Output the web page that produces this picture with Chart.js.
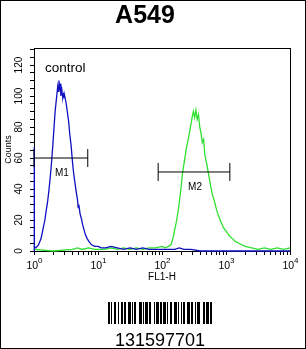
<!DOCTYPE html>
<html><head><meta charset="utf-8">
<script src="https://cdn.jsdelivr.net/npm/chart.js@4/dist/chart.umd.min.js"></script>
<style>html,body{margin:0;padding:0;background:#fff;}canvas{display:block}</style>
</head><body>
<canvas id="c" width="306" height="349"></canvas>
<script>
// ---- data ----
const chartTitle = 'A549';
const xAxisTitle = 'FL1-H';
const yAxisTitle = 'Counts';
const sampleLabel = 'control';
const barcodeText = '131597701';

// x positions are in decades (log10 of FL1-H)
const xTickDecades = [0, 1, 2, 3, 4];
const xTickBase = '10';
const xTickExponents = ['0', '1', '2', '3', '4'];

const controlDecades = [0, 0, 0.008, 0.03, 0.05, 0.07, 0.09, 0.11, 0.13, 0.15, 0.17, 0.19, 0.21, 0.23, 0.25, 0.27, 0.29, 0.31, 0.33, 0.35, 0.37, 0.38, 0.39, 0.40, 0.41, 0.42, 0.43, 0.44, 0.45, 0.46, 0.47, 0.48, 0.50, 0.52, 0.54, 0.56, 0.58, 0.60, 0.62, 0.64, 0.66, 0.68, 0.69, 0.70, 0.72, 0.74, 0.76, 0.78, 0.80, 0.83, 0.86, 0.90, 0.95, 1.00, 1.05, 1.12, 1.20, 1.30, 1.40, 1.50, 1.60, 1.70, 1.80, 2.00, 2.20, 2.27, 2.34, 2.45, 2.60, 4.00];
const controlCounts  = [0, 67, 3, 2, 3, 4, 6, 8, 12, 16, 20, 26, 31, 38, 46, 55, 66, 78, 90, 98, 106, 103, 110, 104, 108, 100, 106, 102, 99, 101, 99, 100, 96, 90, 84, 75, 68, 58, 50, 44, 38, 33, 28, 30, 24, 21, 17, 14, 11, 8, 6, 4, 3, 3, 2, 2, 3, 2, 1, 2, 1, 2, 1, 1, 1, 2, 1, 1, 0, 0];

const sampleDecades = [0, 0.3, 0.6, 0.68, 0.75, 0.85, 0.95, 1.1, 1.2, 1.3, 1.4, 1.5, 1.6, 1.7, 1.8, 1.9, 2.0, 2.05, 2.10, 2.14, 2.17, 2.20, 2.23, 2.26, 2.29, 2.32, 2.35, 2.38, 2.41, 2.44, 2.47, 2.49, 2.51, 2.53, 2.55, 2.57, 2.59, 2.61, 2.63, 2.65, 2.67, 2.70, 2.73, 2.76, 2.79, 2.82, 2.85, 2.88, 2.92, 2.96, 3.00, 3.05, 3.10, 3.15, 3.20, 3.30, 3.40, 3.50, 3.60, 3.70, 3.80, 3.90, 4.00];
const sampleCounts  = [1, 0, 1, 2, 1, 2, 1, 1, 2, 1, 2, 1, 2, 1, 2, 2, 3, 2, 3, 4, 8, 14, 20, 28, 38, 50, 58, 66, 72, 79, 86, 90, 86, 91, 85, 88, 80, 76, 70, 72, 62, 56, 49, 42, 36, 32, 27, 23, 19, 15, 13, 10, 8, 6, 5, 3, 2, 1, 2, 1, 2, 1, 2];

// gates: [startDecade, endDecade, level]
const gateNames = ['M1', 'M2'];
const gateStart = [0, 1.94];
const gateEnd   = [0.84, 3.06];
const gateLevel = [60, 51];

const yMax = 131;
// --------------------------------------

const FONT = '"Liberation Sans", Arial, sans-serif';
const barPattern = '11010011001001101100111010110001110101110110001011101101110100110011101001011001110110010111000110111011';

function toPoints(xs, ys) { return xs.map((x, i) => ({x: x, y: ys[i]})); }

const gateDatasets = gateNames.map((n, i) => ({
  label: n,
  data: [{x: gateStart[i], y: gateLevel[i]}, {x: gateEnd[i], y: gateLevel[i]}],
  borderColor: '#000', borderWidth: 1,
  pointStyle: 'line', pointRotation: 90, pointRadius: 9,
  pointBorderColor: '#000', pointBorderWidth: 1, pointHoverRadius: 9,
  clip: false, order: 0
}));

const decor = {
  id: 'decor',
  beforeDatasetsDraw(chart) {
    const ctx = chart.ctx, a = chart.chartArea;
    ctx.save();
    ctx.strokeStyle = '#000'; ctx.lineWidth = 1;
    ctx.strokeRect(a.left + 0.5, a.top + 0.5, a.right - a.left, a.bottom - a.top);
    ctx.restore();
  },
  afterDraw(chart) {
    const ctx = chart.ctx, a = chart.chartArea;
    const xs = chart.scales.x, ys = chart.scales.y;
    ctx.save();
    ctx.fillStyle = '#000';
    // x tick labels: 10 with raised exponent
    ctx.textAlign = 'left'; ctx.textBaseline = 'alphabetic';
    xTickDecades.forEach((d, i) => {
      const px = xs.getPixelForValue(d);
      ctx.font = '10.5px ' + FONT;
      const w1 = ctx.measureText(xTickBase).width;
      ctx.font = '8px ' + FONT;
      const w2 = ctx.measureText(xTickExponents[i]).width;
      const x0 = px - (w1 + w2) / 2 + 0.5;
      ctx.font = '10.5px ' + FONT;
      ctx.fillText(xTickBase, x0, a.bottom + 17.5);
      ctx.font = '8px ' + FONT;
      ctx.fillText(xTickExponents[i], x0 + w1, a.bottom + 12);
    });
    // sample label
    ctx.font = '13.5px ' + FONT;
    ctx.fillText(sampleLabel, a.left + 11, 72);
    // gate names
    ctx.font = '10px ' + FONT;
    ctx.textAlign = 'center'; ctx.textBaseline = 'middle';
    gateNames.forEach((n, i) => {
      const cx = xs.getPixelForValue((gateStart[i] + gateEnd[i]) / 2);
      const cy = ys.getPixelForValue(gateLevel[i]) + 15;
      ctx.fillText(n, cx + 1, cy);
    });
    // barcode
    const bw = barPattern.length;
    const bx = Math.round(160 - bw / 2);
    for (let i = 0; i < bw; i++) {
      if (barPattern[i] === '1') ctx.fillRect(bx + i, 302, 1, 22);
    }
    ctx.font = '18px ' + FONT;
    ctx.textAlign = 'center'; ctx.textBaseline = 'alphabetic';
    ctx.fillText(barcodeText, 160, 346);
    // outer frame
    ctx.strokeStyle = '#000'; ctx.lineWidth = 1;
    ctx.strokeRect(0.5, 0.5, chart.width - 1, chart.height - 1);
    ctx.restore();
  }
};

new Chart(document.getElementById('c'), {
  type: 'line',
  data: {
    datasets: [
      ...gateDatasets,
      { label: 'control', data: toPoints(controlDecades, controlCounts), borderColor: '#1010c0', borderWidth: 1.3, pointRadius: 0, tension: 0, clip: false, order: 1 },
      { label: 'sample', data: toPoints(sampleDecades, sampleCounts), borderColor: '#2fe02f', borderWidth: 1.3, pointRadius: 0, tension: 0, clip: false, order: 2 }
    ]
  },
  options: {
    responsive: false, animation: false, devicePixelRatio: 1,
    layout: { padding: { top: 0, right: 16, bottom: 0, left: 0 } },
    plugins: {
      legend: { display: false }, tooltip: { enabled: false },
      title: { display: true, text: chartTitle, color: '#000',
        font: { family: FONT, size: 25, weight: 'bold', lineHeight: 1.2 },
        padding: { top: 1, bottom: 17 } }
    },
    scales: {
      x: {
        type: 'linear', min: 0, max: 4,
        afterBuildTicks: (s) => {
          const t = [];
          xTickDecades.forEach((d, i) => {
            t.push({ value: d });
            if (i < xTickDecades.length - 1) for (let k = 2; k <= 9; k++) t.push({ value: d + Math.log10(k) });
          });
          s.ticks = t;
        },
        afterFit: (s) => { s.height = 98; },
        grid: { drawOnChartArea: false, drawTicks: true, tickLength: 4, color: '#000', lineWidth: 1 },
        border: { display: true, color: '#000', width: 1 },
        ticks: { autoSkip: false, maxRotation: 0, minRotation: 0, padding: 3, color: '#000',
          font: { family: FONT, size: 10 },
          callback: () => '' },
        title: { display: true, text: xAxisTitle, color: '#000', font: { family: FONT, size: 10 }, padding: { top: 0, bottom: 66 } }
      },
      y: {
        type: 'linear', min: 0, max: yMax,
        afterFit: (s) => { s.width = 34; },
        grid: { drawOnChartArea: false, drawTicks: true, tickLength: 4, color: '#000', lineWidth: 1 },
        border: { display: true, color: '#000', width: 1 },
        ticks: { stepSize: 5, includeBounds: false, autoSkip: false, minRotation: 90, maxRotation: 90,
          crossAlign: 'center', padding: 2, color: '#000', font: { family: FONT, size: 10 },
          callback: (v) => (v % 20 === 0 ? String(v) : '') },
        title: { display: true, text: yAxisTitle, color: '#000', font: { family: FONT, size: 9 }, padding: { top: 3, bottom: 0 } }
      }
    }
  },
  plugins: [decor]
});
</script>
</body></html>
